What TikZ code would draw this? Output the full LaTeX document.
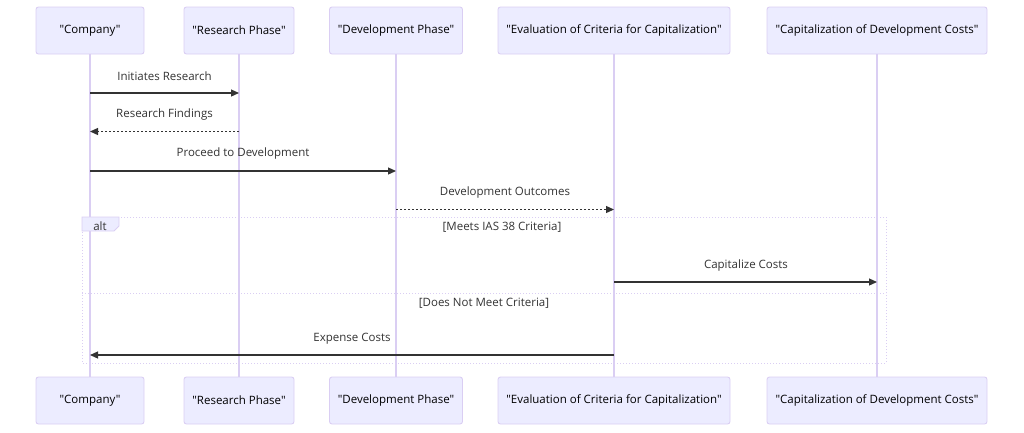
\documentclass[tikz,border=0pt]{standalone}
\usepackage{fontspec}
\setmainfont{Open Sans}[Ligatures=TeXOff]
\usetikzlibrary{arrows.meta}
\definecolor{actfill}{HTML}{ECECFF}
\definecolor{actline}{HTML}{DACEF3}
\definecolor{txt}{HTML}{333333}
\begin{document}
\begin{tikzpicture}[x=1pt,y=-1pt,
  actor/.style={draw=actline,fill=actfill,line width=0.9pt,rounded corners=2.5pt,
    minimum height=47pt,inner sep=0pt,font=\fontsize{11.5}{13}\selectfont,text=black},
  life/.style={draw=actline,line width=1.1pt},
  msg/.style={draw=txt,line width=1.2pt,-{Triangle[length=8pt,width=7pt]}},
  reply/.style={msg,dash pattern=on 2pt off 2pt},
  lbl/.style={font=\fontsize{11.5}{13}\selectfont,text=txt,inner sep=0pt},
  altline/.style={draw=actline,line width=0.9pt,dash pattern=on 1.2pt off 1.8pt}]
\useasboundingbox (0,0) rectangle (1024,432);
% top actors
\node[actor,minimum width=108pt] (a1) at (90,30.5) {\raisebox{-1pt}{"Company"}};
\node[actor,minimum width=110pt] (a2) at (239,30.5) {\raisebox{-1pt}{"Research Phase"}};
\node[actor,minimum width=133pt] (a3) at (396,30.5) {\raisebox{-1pt}{"Development Phase"}};
\node[actor,minimum width=232pt] (a4) at (614,30.5) {\raisebox{-1pt}{"Evaluation of Criteria for Capitalization"}};
\node[actor,minimum width=220pt] (a5) at (877,30.5) {\raisebox{-1pt}{"Capitalization of Development Costs"}};
% bottom actors
\node[actor,minimum width=108pt] (b1) at (90,400.5) {\raisebox{-1pt}{"Company"}};
\node[actor,minimum width=110pt] (b2) at (239,400.5) {\raisebox{-1pt}{"Research Phase"}};
\node[actor,minimum width=133pt] (b3) at (396,400.5) {\raisebox{-1pt}{"Development Phase"}};
\node[actor,minimum width=232pt] (b4) at (614,400.5) {\raisebox{-1pt}{"Evaluation of Criteria for Capitalization"}};
\node[actor,minimum width=220pt] (b5) at (877,400.5) {\raisebox{-1pt}{"Capitalization of Development Costs"}};
% lifelines
\foreach \i in {1,...,5} {\draw[life] (a\i.south) -- (b\i.north);}
% alt frame
\coordinate (altTL) at (82,217);
\coordinate (altBR) at (886,363);
\draw[altline] (altTL) rectangle (altBR);
\draw[altline] (82,293) -- (886,293);
\filldraw[fill=actfill,draw=actline,line width=0.9pt] (82,217) -- (119,217) -- (119,226) -- (114,231) -- (82,231) -- cycle;
\node[lbl] (altlbl) at (100,226) {alt};
\node[lbl] (g1) at (502,227) {[Meets IAS 38 Criteria]};
\node[lbl] (g2) at (484,303) {[Does Not Meet Criteria]};
% messages
\node[lbl] (t1) at (164.5,76) {Initiates Research};
\draw[msg] (a1 |- 0,93) -- (a2 |- 0,93);
\node[lbl] (t2) at (164.5,115) {Research Findings};
\draw[reply] (a2 |- 0,131.5) -- (a1 |- 0,131.5);
\node[lbl] (t3) at (243,154) {Proceed to Development};
\draw[msg] (a1 |- 0,171) -- (a3 |- 0,171);
\node[lbl] (t4) at (505,193) {Development Outcomes};
\draw[reply] (a3 |- 0,209.5) -- (a4 |- 0,209.5);
\node[lbl] (t5) at (746,266) {Capitalize Costs};
\draw[msg] (a4 |- 0,282) -- (a5 |- 0,282);
\node[lbl] (t6) at (352,339) {Expense Costs};
\draw[msg] (a4 |- 0,355) -- (a1 |- 0,355);
\end{tikzpicture}
\end{document}
